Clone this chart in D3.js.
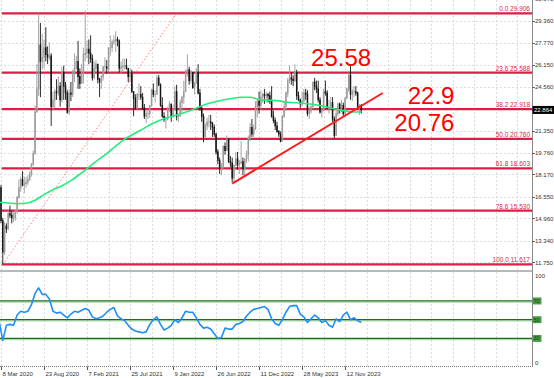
<!DOCTYPE html>
<html lang="en">
<head>
<meta charset="utf-8">
<title>Silver weekly</title>
<script src="https://cdnjs.cloudflare.com/ajax/libs/d3/7.8.5/d3.min.js"></script>
<style>
  body { margin: 0; background: #fff; }
  svg { display: block; font-family: "Liberation Sans", Arial, sans-serif; }
</style>
</head>
<body>
<div id="chart"></div>
<script>
// weekly bars, bar 0 = week of 1 Mar 2020, open = previous close
const firstOpen = 16.6;
const closes = [
  17.2,14.8,12.5,14.4,14.2,15.3,15.2,15.0,15.0,15.5,
  16.5,17.2,17.8,17.4,17.5,17.6,17.8,18.2,18.9,19.7,
  22.7,24.4,27.6,26.4,26.7,27.4,26.9,26.7,26.8,23.1,
  23.6,24.2,24.1,24.6,23.6,25.6,24.6,24.1,22.7,24.1,
  24.0,25.6,25.9,26.4,25.3,24.8,25.5,26.9,27.0,27.3,
  27.0,26.6,25.2,25.9,26.2,25.1,24.9,25.3,26.0,26.0,
  25.9,27.4,27.4,27.8,27.9,28.0,27.9,25.9,26.0,26.1,
  26.1,25.9,25.3,25.5,24.2,23.7,23.0,24.0,24.0,23.8,
  23.0,22.4,22.6,22.6,23.2,24.3,24.0,24.0,25.2,24.7,
  23.2,22.4,22.2,22.2,22.9,23.3,22.4,22.9,24.2,22.4,
  22.4,23.4,23.8,24.2,25.7,25.8,25.0,25.6,24.5,24.8,
  25.6,24.1,23.0,22.4,20.9,21.7,22.0,22.0,21.9,21.6,
  21.1,19.8,19.2,18.6,18.7,20.2,19.9,20.7,19.1,19.0,
  17.9,18.8,19.3,18.9,19.0,19.1,18.6,19.3,19.6,20.8,
  21.6,21.1,21.5,23.1,23.5,23.2,23.8,24.0,23.9,24.0,
  23.9,23.5,22.4,22.1,21.7,21.3,21.1,20.6,22.4,23.1,
  24.1,25.0,25.2,25.1,25.0,25.6,23.9,23.6,23.3,23.5,
  24.1,24.0,22.6,22.8,23.1,24.9,24.6,24.4,23.6,22.7,
  22.8,24.2,24.1,23.0,23.0,23.4,22.2,21.0,22.6,23.3,
  22.9,23.2,22.6,23.7,24.4,25.4,24.0,24.2,24.2,24.1,
  23.1,23.2,22.864
];
const highs = [
  17.6,17.4,15.0,14.7,14.6,15.6,15.9,15.5,15.4,15.6,
  16.6,17.8,18.0,18.4,18.0,18.0,18.1,18.4,19.0,19.9,
  23.2,26.2,29.9,29.2,28.4,28.0,28.9,27.5,27.8,27.0,
  24.2,24.4,25.1,25.3,24.9,26.0,26.1,24.9,24.3,24.4,
  24.9,25.8,27.0,26.8,27.9,25.9,26.2,27.4,30.1,27.9,
  28.0,28.3,26.9,26.4,26.5,26.2,25.2,25.4,26.1,26.7,
  26.5,27.4,28.3,28.0,28.3,28.6,28.2,28.0,26.4,26.6,
  26.6,26.6,25.9,25.9,25.8,24.2,24.0,24.1,24.8,24.6,
  24.1,23.3,22.9,22.9,23.2,24.4,24.8,24.3,25.4,25.4,
  24.8,23.8,22.7,22.4,23.1,23.5,23.3,23.2,24.6,24.7,
  22.6,23.6,23.9,25.0,25.8,26.9,26.0,25.8,25.6,24.9,
  25.9,26.2,24.4,23.2,22.6,21.9,22.3,22.5,22.5,22.0,
  21.8,21.2,20.0,19.4,19.0,20.3,20.5,21.0,20.8,19.5,
  19.4,18.9,19.8,19.8,19.2,20.6,19.4,19.3,19.9,21.0,
  21.9,22.2,21.8,23.5,23.6,24.2,24.3,24.1,24.4,24.2,
  24.1,24.2,24.6,22.8,22.3,22.0,21.4,21.3,22.5,23.5,
  24.2,25.2,26.1,25.6,25.4,26.2,25.8,24.2,23.7,24.2,
  24.4,24.4,24.3,23.1,23.2,24.9,25.2,25.0,25.0,23.8,
  23.0,24.4,25.0,24.3,23.6,23.8,23.8,22.4,22.9,23.4,
  23.4,23.6,23.4,23.8,24.5,25.5,26.2,24.4,24.6,24.6,
  24.2,23.3,23.3
];
const lows = [
  16.4,14.6,11.62,12.3,13.9,14.1,15.0,14.6,14.7,14.8,
  15.3,16.4,16.9,17.3,16.8,17.2,17.4,17.7,18.0,18.8,
  19.6,22.7,23.9,23.8,25.8,25.9,26.4,26.2,26.5,21.7,
  22.8,23.0,23.6,23.9,23.1,23.4,23.6,23.6,22.6,22.5,
  23.5,23.8,24.9,25.8,24.4,24.4,24.8,24.8,26.4,26.6,
  26.2,26.3,25.0,25.1,25.6,24.8,23.8,24.4,25.0,25.6,
  25.5,25.6,26.8,27.1,27.6,27.1,27.5,25.6,25.5,25.7,
  25.8,25.8,24.9,24.9,24.1,22.4,22.9,22.9,23.6,23.6,
  22.9,22.2,21.9,22.2,22.3,23.1,23.8,23.4,24.0,24.6,
  23.1,22.3,22.0,21.5,22.1,22.7,22.0,22.3,22.8,22.1,
  22.0,22.4,22.6,23.3,24.2,25.3,24.7,24.8,24.4,24.0,
  24.8,24.0,22.8,22.0,20.5,20.9,21.4,21.6,21.4,20.9,
  20.9,19.6,18.9,18.2,18.1,18.5,19.6,19.9,19.0,18.7,
  17.6,17.6,18.8,18.5,18.2,18.9,18.1,18.1,19.0,19.1,
  20.6,20.9,20.9,21.4,22.3,22.6,22.9,23.4,23.3,23.4,
  23.4,23.3,22.3,21.9,21.4,21.2,20.9,20.5,20.6,22.3,
  22.8,23.8,24.8,24.7,24.6,24.9,23.6,23.5,23.0,23.1,
  23.3,23.6,22.4,22.2,22.6,22.9,24.3,24.1,23.4,22.6,
  22.3,22.8,23.9,23.0,22.6,22.9,22.0,20.8,21.1,22.4,
  22.6,22.7,22.4,22.5,23.7,24.2,23.6,23.5,23.8,23.9,
  22.9,22.5,22.6
];

// moving average, read every 5 bars
const maBars = [0,5,10,15,20,25,30,35,40,45,50,55,60,65,70,75,80,85,90,95,100,
  105,110,115,120,125,130,135,140,145,150,155,160,165,170,175,180,185,190,195,200,202];
const maValues = [16.14,16.08,16.03,16.06,16.28,16.69,17.05,17.34,17.71,18.18,18.69,
  19.21,19.68,20.23,20.74,21.11,21.47,21.84,22.13,22.35,22.53,22.75,23.0,23.26,23.44,
  23.59,23.70,23.79,23.79,23.63,23.57,23.54,23.44,23.39,23.33,23.27,23.16,23.0,22.87,
  22.75,22.71,22.71];

// RSI, read every 2 bars (bar 0, 2, 4 ...)
const rsi = [
  48,28,44,45,44,55,59,58,59,66,78,84,77,77,72,59,57,58,55,52,
  56,59,58,60,62,60,53,51,52,54,58,61,63,54,51,49,44,40,38,37,
  36,37,45,50,53,45,39,41,44,50,47,52,59,58,58,52,45,41,42,40,
  35,30,31,41,40,40,45,46,48,54,58,61,62,63,64,61,51,46,44,50,
  58,64,65,65,56,53,47,51,55,52,47,49,44,42,51,48,55,58,50,52,
  49,47
];
const rsiLevels = [70, 50, 30];

const fibPct = [0.0, 23.6, 38.2, 50.0, 61.8, 78.6, 100.0];
const fibValues = [29.906, 25.588, 22.918, 20.760, 18.603, 15.530, 11.617];

const priceTicks = [11.750, 13.340, 14.960, 16.550, 18.170, 19.760, 21.350, 22.950,
  24.560, 26.150, 27.770, 29.360, 30.970];
const lastPrice = 22.864;

const dateLabels = ["8 Mar 2020", "23 Aug 2020", "7 Feb 2021", "25 Jul 2021", "9 Jan 2022",
  "26 Jun 2022", "11 Dec 2022", "28 May 2023", "12 Nov 2023"];
const dateTicks = [[2020,2,8],[2020,7,23],[2021,1,7],[2021,6,25],[2022,0,9],
  [2022,5,26],[2022,11,11],[2023,4,28],[2023,10,12]].map(d => new Date(d[0], d[1], d[2]));

const notes = [
  {text: "25.58", anchor: "start", bar: 174, price: 26.10},
  {text: "22.9", anchor: "end", bar: 254, price: 23.30},
  {text: "20.76", anchor: "end", bar: 254, price: 21.35}
];

const w = 554, h = 378;
const right = 532;
const mainBottom = 270;

const firstWeek = new Date(2020, 2, 1);
const barDate = i => d3.timeDay.offset(firstWeek, 7 * i);

const x = d3.scaleTime()
  .domain([new Date(2020, 2, 8), d3.timeDay.offset(new Date(2020, 2, 8), 2074)])
  .range([1, right]);
const y = d3.scaleLinear().domain([11.617, 29.906]).range([264.3, 13.3]);
const yr = d3.scaleLinear().domain([0, 100]).range([366.6, 272.8]);

const svg = d3.select("#chart").append("svg")
  .attr("width", w).attr("height", h);

const defs = svg.append("defs");
defs.append("clipPath").attr("id", "clipMain")
  .append("rect").attr("x", 0).attr("y", 0).attr("width", right).attr("height", mainBottom);
defs.append("clipPath").attr("id", "clipRsi")
  .append("rect").attr("x", 0).attr("y", 272).attr("width", right).attr("height", 95);

// grid
const gridDates = d3.range(0, 26).map(k => d3.timeDay.offset(new Date(2020, 2, 8), 84 * k))
  .filter(d => x(d) < right);
const grid = svg.append("g").attr("stroke", "#d4d4d4").attr("stroke-dasharray", "2,2")
  .attr("stroke-width", 0.8);
grid.selectAll(".vg").data(gridDates).enter().append("line")
  .attr("x1", d => Math.round(x(d)) + 0.5).attr("x2", d => Math.round(x(d)) + 0.5)
  .attr("y1", 0).attr("y2", 366);
grid.selectAll(".hg").data(priceTicks).enter().append("line")
  .attr("x1", 0).attr("x2", right)
  .attr("y1", d => Math.round(y(d)) + 0.5).attr("y2", d => Math.round(y(d)) + 0.5);

const main = svg.append("g").attr("clip-path", "url(#clipMain)");

// fib levels
const fibX0 = x(barDate(2)) - 1;
main.selectAll(".fib").data(fibValues).enter().append("line")
  .attr("x1", fibX0).attr("x2", right)
  .attr("y1", d => y(d)).attr("y2", d => y(d))
  .attr("stroke", "#dc1e46").attr("stroke-width", 2.2);

// fib diagonal
main.append("line")
  .attr("x1", x(barDate(2))).attr("y1", y(fibValues[6]))
  .attr("x2", x(barDate(99))).attr("y2", y(fibValues[0]))
  .attr("stroke", "#ff5a5a").attr("stroke-width", 0.8).attr("stroke-dasharray", "1.5,2");

// candles
const bars = closes.map((c, i) => ({
  date: barDate(i),
  open: i === 0 ? firstOpen : closes[i - 1],
  high: highs[i], low: lows[i], close: c
}));
const candle = main.selectAll(".bar").data(bars).enter().append("g")
  .attr("stroke", d => d.close >= d.open ? "#9b9b9b" : "#151515");
candle.append("line")
  .attr("x1", d => x(d.date)).attr("x2", d => x(d.date))
  .attr("y1", d => y(d.high)).attr("y2", d => y(d.low))
  .attr("stroke-width", 0.9);
candle.append("line")
  .attr("x1", d => x(d.date)).attr("x2", d => x(d.date))
  .attr("y1", d => y(Math.max(d.open, d.close)) - 0.4)
  .attr("y2", d => y(Math.min(d.open, d.close)) + 0.4)
  .attr("stroke-width", 1.5);

// moving average
main.append("path")
  .datum(maBars.map((b, i) => [barDate(b), maValues[i]]))
  .attr("fill", "none").attr("stroke", "#22ee7c").attr("stroke-width", 1.6)
  .attr("d", d3.line().x(d => x(d[0])).y(d => y(d[1])).curve(d3.curveMonotoneX));

// trend line
main.append("line")
  .attr("x1", x(barDate(130))).attr("y1", y(17.5))
  .attr("x2", x(barDate(214))).attr("y2", y(24.1))
  .attr("stroke", "#ff1a1a").attr("stroke-width", 2);

// fib labels
svg.selectAll(".fibl").data(fibValues).enter().append("text")
  .attr("x", 530).attr("y", d => y(d) - 2)
  .attr("text-anchor", "end").attr("font-size", 6.5).attr("fill", "#dc1e46")
  .text((d, i) => fibPct[i].toFixed(1) + " " + d.toFixed(3));

// big notes
svg.selectAll(".note").data(notes).enter().append("text")
  .attr("x", d => x(barDate(d.bar))).attr("y", d => y(d.price))
  .attr("text-anchor", d => d.anchor)
  .attr("font-size", 24).attr("fill", "#ff0000")
  .text(d => d.text);

// panel separators and axes
svg.append("line").attr("x1", 0).attr("x2", right).attr("y1", 271).attr("y2", 271)
  .attr("stroke", "#a0a0a0").attr("stroke-width", 1.4);
svg.append("line").attr("x1", 0).attr("x2", right).attr("y1", 366.5).attr("y2", 366.5)
  .attr("stroke", "#777").attr("stroke-dasharray", "1,1");
svg.append("line").attr("x1", right + 0.5).attr("x2", right + 0.5).attr("y1", 0).attr("y2", 367)
  .attr("stroke", "#8a8a8a");

// price axis
const pax = svg.append("g").attr("font-size", 6).attr("fill", "#333");
pax.selectAll("line").data(priceTicks).enter().append("line")
  .attr("x1", right).attr("x2", right + 3)
  .attr("y1", d => Math.round(y(d)) + 0.5).attr("y2", d => Math.round(y(d)) + 0.5)
  .attr("stroke", "#666");
pax.selectAll("text").data(priceTicks).enter().append("text")
  .attr("x", right + 3).attr("y", d => y(d) + 2.2)
  .text(d => d.toFixed(3));
svg.append("rect").attr("x", right + 0.5).attr("y", y(lastPrice) - 4)
  .attr("width", 22).attr("height", 8).attr("fill", "#000");
svg.append("text").attr("x", right + 2).attr("y", y(lastPrice) + 2.2)
  .attr("font-size", 6).attr("fill", "#fff").text(lastPrice.toFixed(3));

// RSI
const rsiG = svg.append("g").attr("clip-path", "url(#clipRsi)");
rsiLevels.forEach(v => {
  rsiG.append("line").attr("x1", 0).attr("x2", right).attr("y1", yr(v) + 1.2).attr("y2", yr(v) + 1.2)
    .attr("stroke", "#9ad49a").attr("stroke-width", 1);
  rsiG.append("line").attr("x1", 0).attr("x2", right).attr("y1", yr(v)).attr("y2", yr(v))
    .attr("stroke", "#1d6e1d").attr("stroke-width", 1.3);
});
rsiG.append("path")
  .datum(rsi.map((v, i) => [barDate(i * 2), v]))
  .attr("fill", "none").attr("stroke", "#1e8ff5").attr("stroke-width", 1.6)
  .attr("stroke-linejoin", "round")
  .attr("d", d3.line().x(d => x(d[0])).y(d => yr(d[1])));

const lvl = svg.selectAll(".lvl").data(rsiLevels).enter().append("g");
lvl.append("rect").attr("x", right + 0.5).attr("y", d => yr(d) - 3.5)
  .attr("width", 9).attr("height", 7).attr("fill", "#4c9e4c");
lvl.append("text").attr("x", right + 1.5).attr("y", d => yr(d) + 2)
  .attr("font-size", 5.5).attr("fill", "#0a3a0a").text(d => d);
svg.append("text").attr("x", right + 3).attr("y", 277.5).attr("font-size", 6)
  .attr("fill", "#333").text("100");
svg.append("text").attr("x", right + 3).attr("y", 364.5).attr("font-size", 6)
  .attr("fill", "#333").text("0");

// time axis
const tax = svg.append("g").attr("font-size", 6).attr("fill", "#333");
tax.selectAll("line").data(dateTicks).enter().append("line")
  .attr("x1", d => Math.round(x(d)) + 0.5).attr("x2", d => Math.round(x(d)) + 0.5)
  .attr("y1", 366.5).attr("y2", 370).attr("stroke", "#555");
tax.selectAll("text").data(dateTicks).enter().append("text")
  .attr("x", d => x(d) + 1.5).attr("y", 376)
  .text((d, i) => dateLabels[i]);
</script>
</body>
</html>
